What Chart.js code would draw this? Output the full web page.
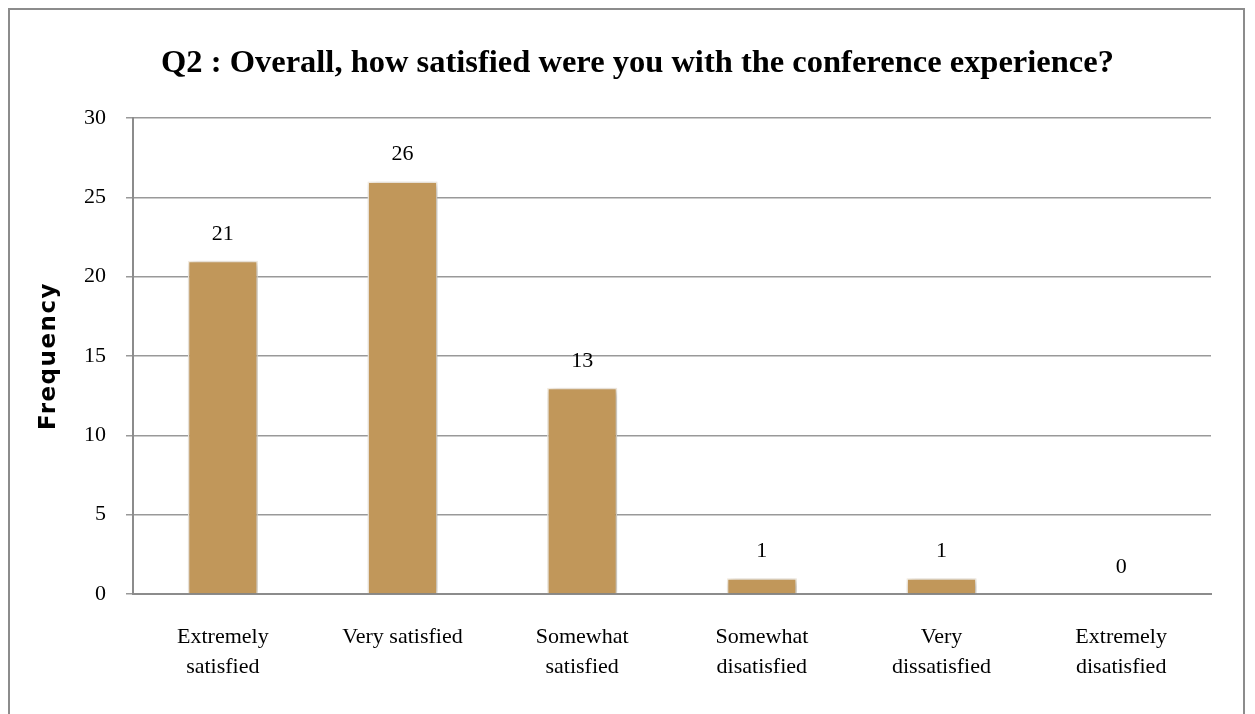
<!DOCTYPE html>
<html>
<head>
<meta charset="utf-8">
<script src="https://cdn.jsdelivr.net/npm/chart.js@4"></script>
<style>
  html, body { margin: 0; padding: 0; background: #fff; }
  #wrap { position: relative; width: 1255px; height: 714px; overflow: hidden; }
  #frame { position: absolute; left: 8px; top: 8px; width: 1237px; height: 760px; border: 2px solid #8c8c8c; box-sizing: border-box; }
  canvas { position: absolute; left: 0; top: 0; }
</style>
</head>
<body>
<div id="wrap">
  <div id="frame"></div>
  <canvas id="chart" width="1255" height="714"></canvas>
</div>
<script>
// Chart data
const categories = [
    ['Extremely', 'satisfied'],
    'Very satisfied',
    ['Somewhat', 'satisfied'],
    ['Somewhat', 'disatisfied'],
    ['Very', 'dissatisfied'],
    ['Extremely', 'disatisfied']
];
const frequencies = [21, 26, 13, 1, 1, 0];
const yTicks = [0, 5, 10, 15, 20, 25, 30];

const chartTitle = 'Q2 : Overall, how satisfied were you with the conference experience?';
const yTitle = 'Frequency';

const serif = '"Liberation Serif", "Times New Roman", serif';

// Soft shadow behind the bars
const barShadow = {
    id: 'barShadow',
    beforeDatasetsDraw(chart) {
        const ctx = chart.ctx;
        ctx.save();
        ctx.shadowColor = 'rgba(0,0,0,0.3)';
        ctx.shadowBlur = 7;
        ctx.shadowOffsetX = 2;
        ctx.shadowOffsetY = 2;
    },
    afterDatasetsDraw(chart) {
        chart.ctx.restore();
    }
};

// Value labels above each bar
const valueLabels = {
    id: 'valueLabels',
    afterDatasetsDraw(chart) {
        const ctx = chart.ctx;
        const meta = chart.getDatasetMeta(0);
        ctx.save();
        ctx.font = '22px ' + serif;
        ctx.fillStyle = '#000';
        ctx.textAlign = 'center';
        ctx.textBaseline = 'middle';
        meta.data.forEach((bar, i) => {
            ctx.fillText(String(frequencies[i]), bar.x, bar.y - 27);
        });
        ctx.restore();
    }
};

// Chart title and rotated y-axis title
const titles = {
    id: 'titles',
    afterDraw(chart) {
        const ctx = chart.ctx;
        ctx.save();
        ctx.fillStyle = '#000';
        ctx.textAlign = 'center';
        ctx.font = 'bold 32.5px ' + serif;
        ctx.textBaseline = 'alphabetic';
        ctx.fillText(chartTitle, 637.5, 72);

        ctx.translate(49, 356);
        ctx.rotate(-Math.PI / 2);
        ctx.font = 'bold 23px "DejaVu Sans", Verdana, sans-serif';
        ctx.letterSpacing = '1.5px';
        ctx.textBaseline = 'middle';
        ctx.fillText(yTitle, 0, 0);
        ctx.restore();
    }
};

new Chart(document.getElementById('chart').getContext('2d'), {
    type: 'bar',
    data: {
        labels: categories,
        datasets: [{
            data: frequencies,
            backgroundColor: '#C1975A',
            borderColor: '#f6efe4',
            borderWidth: 1.5,
            barPercentage: 0.39,
            categoryPercentage: 1
        }]
    },
    options: {
        responsive: false,
        animation: false,
        layout: { padding: { left: 0, right: 44, top: 118, bottom: 0 } },
        plugins: {
            legend: { display: false },
            tooltip: { enabled: false },
            title: { display: false }
        },
        scales: {
            x: {
                grid: { display: false, drawTicks: false },
                border: { color: '#8c8c8c', width: 2 },
                ticks: {
                    color: '#000',
                    font: { family: serif, size: 22, lineHeight: 1.36 },
                    padding: 28,
                    maxRotation: 0,
                    autoSkip: false
                },
                afterFit(scale) { scale.height = 120; }
            },
            y: {
                min: 0,
                max: 30,
                afterBuildTicks(scale) {
                    scale.ticks = yTicks.map(v => ({ value: v }));
                },
                grid: { color: '#999', lineWidth: 1.5, tickLength: 7 },
                border: { color: '#8c8c8c', width: 2 },
                ticks: {
                    color: '#000',
                    font: { family: serif, size: 22 },
                    padding: 20
                },
                afterFit(scale) { scale.width = 133; }
            }
        }
    },
    plugins: [barShadow, valueLabels, titles]
});
</script>
</body>
</html>
